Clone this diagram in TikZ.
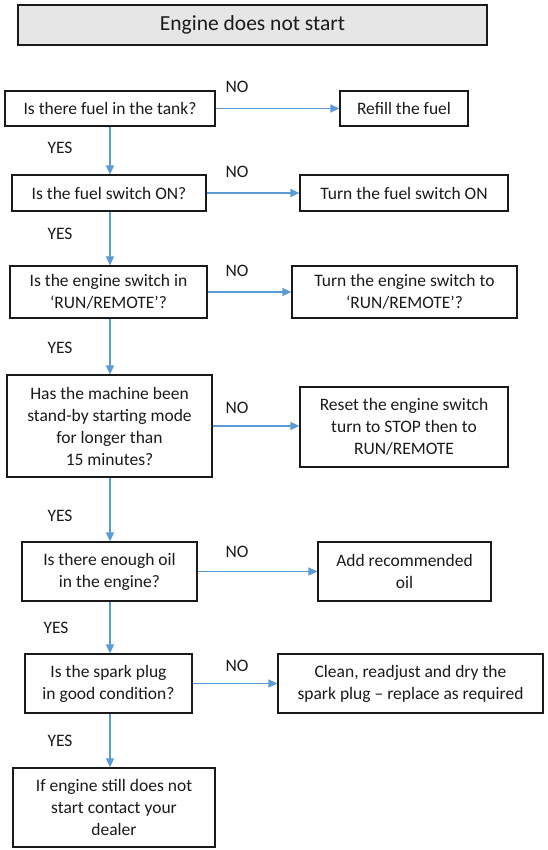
\documentclass[tikz,border=0pt]{standalone}
\usepackage{fontspec}
\setmainfont{Carlito}
\usetikzlibrary{arrows.meta}
\definecolor{flow}{HTML}{5B9BD5}
\definecolor{headfill}{HTML}{E7E6E6}
\definecolor{ink}{HTML}{1A1A1A}

\begin{document}
\begin{tikzpicture}[x=1pt, y=-1pt, ink,
  font=\fontsize{17.5}{22}\selectfont,
  >={Triangle[length=9pt,width=8pt]},
  link/.style={->, draw=flow, fill=flow, line width=1.3pt},
  box/.style={draw=ink, line width=1.2pt, inner sep=0pt, align=center},
  lbl/.style={inner sep=0pt}]

\useasboundingbox (0,0) rectangle (547,850);

% title
\node[box, fill=headfill, minimum width=469, minimum height=40,
      font=\fontsize{21.5}{24}\selectfont] (title) at (252.5,25) {Engine does not start};

% questions
\node[box, minimum width=210, minimum height=35] (q1) at (110,108.5) {Is there fuel in the tank?};
\node[box, minimum width=194, minimum height=36] (q2) at (109,193) {Is the fuel switch ON?};
\node[box, minimum width=197, minimum height=52] (q3) at (108.5,292) {Is the engine switch in\\‘RUN/REMOTE’?};
\node[box, minimum width=205, minimum height=102] (q4) at (109.5,426) {Has the machine been\\stand-by starting mode\\for longer than\\15 minutes?};
\node[box, minimum width=175, minimum height=59] (q5) at (109.5,571.5) {Is there enough oil\\in the engine?};
\node[box, minimum width=167, minimum height=59] (q6) at (108.5,683.5) {Is the spark plug\\in good condition?};
\node[box, minimum width=202, minimum height=79] (q7) at (114,807.5) {If engine still does not\\start contact your\\dealer};

% actions
\node[box, minimum width=128, minimum height=35] (a1) at (404,108.5) {Refill the fuel};
\node[box, minimum width=208, minimum height=36] (a2) at (404,193) {Turn the fuel switch ON};
\node[box, minimum width=225, minimum height=52] (a3) at (404.5,292) {Turn the engine switch to\\‘RUN/REMOTE’?};
\node[box, minimum width=208, minimum height=80] (a4) at (404,427) {Reset the engine switch\\turn to STOP then to\\RUN/REMOTE};
\node[box, minimum width=173, minimum height=59] (a5) at (404.5,571.5) {Add recommended\\oil};
\node[box, minimum width=265, minimum height=59] (a6) at (410.5,683.5) {Clean, readjust and dry the\\spark plug – replace as required};

% yes path
\draw[link] (q1.south) -- (q1.south |- q2.north);
\draw[link] (q1.south |- q2.south) -- (q1.south |- q3.north);
\draw[link] (q1.south |- q3.south) -- (q1.south |- q4.north);
\draw[link] (q1.south |- q4.south) -- (q1.south |- q5.north);
\draw[link] (q1.south |- q5.south) -- (q1.south |- q6.north);
\draw[link] (q1.south |- q6.south) -- (q1.south |- q7.north);
\node[lbl] (yes1) at (60,148) {YES};
\node[lbl] (yes2) at (60,234) {YES};
\node[lbl] (yes3) at (60,348) {YES};
\node[lbl] (yes4) at (60,516) {YES};
\node[lbl] (yes5) at (56,628) {YES};
\node[lbl] (yes6) at (60,741) {YES};

% no path
\draw[link] (q1.east) -- (a1.west);
\draw[link] (q2.east) -- (a2.west);
\draw[link] (q3.east) -- (a3.west);
\draw[link] (q4.east) -- (q4.east -| a4.west);
\draw[link] (q5.east) -- (a5.west);
\draw[link] (q6.east) -- (a6.west);
\node[lbl] (no1) at (237,87) {NO};
\node[lbl] (no2) at (237,172) {NO};
\node[lbl] (no3) at (237,271) {NO};
\node[lbl] (no4) at (237,408) {NO};
\node[lbl] (no5) at (237,552) {NO};
\node[lbl] (no6) at (237,666) {NO};

\end{tikzpicture}
\end{document}
